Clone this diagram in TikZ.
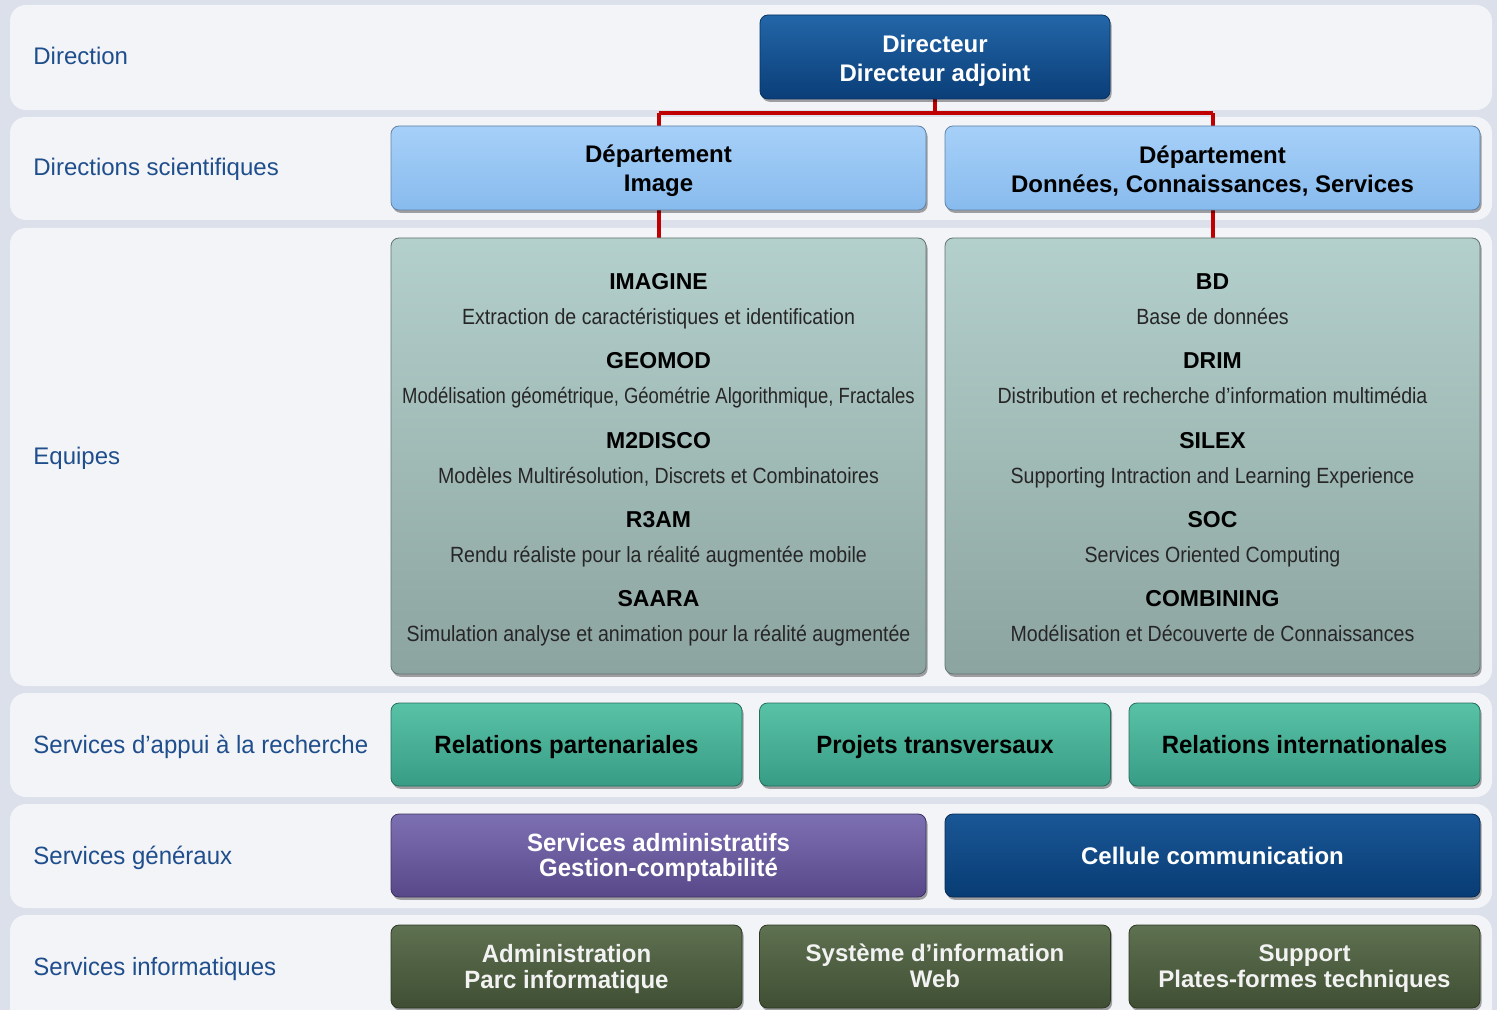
\documentclass[tikz,border=0pt]{standalone}
\usepackage{fontspec}
\setmainfont{Liberation Sans}
\newfontfamily\narrowfont[FakeStretch=0.96]{Liberation Sans}
\newfontfamily\descfont[FakeStretch=0.89]{Liberation Sans}
\newfontfamily\descfontB[FakeStretch=0.84]{Liberation Sans}
\usetikzlibrary{shadows,calc}
\newcommand\hstrut{\rule{0pt}{1em}}
\newcommand\dstrut[1]{\rule[-#1em]{0pt}{#1em}}
\definecolor{bgc}{HTML}{DCE0EA}
\definecolor{bandc}{HTML}{F3F4F8}
\definecolor{labc}{HTML}{1F4E8C}
\definecolor{redc}{HTML}{C00000}
\definecolor{dirtop}{HTML}{2366A8}
\definecolor{dirbot}{HTML}{0A3E78}
\definecolor{deptop}{HTML}{A6D0F8}
\definecolor{depbot}{HTML}{88BBEE}
\definecolor{teamtop}{HTML}{B4D0CC}
\definecolor{teambot}{HTML}{8CA4A0}
\definecolor{tealtop}{HTML}{58C2A6}
\definecolor{tealbot}{HTML}{389C85}
\definecolor{purtop}{HTML}{7D70B2}
\definecolor{purbot}{HTML}{58488A}
\definecolor{comtop}{HTML}{1A5796}
\definecolor{combot}{HTML}{083C74}
\definecolor{grntop}{HTML}{5E7150}
\definecolor{grnbot}{HTML}{404F34}
\begin{document}
\begin{tikzpicture}[x=0.5pt,y=-0.5pt,
  band/.style={fill=bandc, rounded corners=8pt},
  rowlab/.style={anchor=base west, inner sep=0pt, text=labc},
  box/.style={rounded corners=4pt, inner sep=2pt, align=center,
    drop shadow={shadow xshift=0.8pt, shadow yshift=-1.4pt, opacity=0.35, fill=black}},
  dirbox/.style={box, top color=dirtop, bottom color=dirbot, draw=dirbot!80!black,
    text=white, font=\bfseries\fontsize{12}{14.5}\selectfont,
    minimum width=175pt, minimum height=42pt},
  depbox/.style={box, top color=deptop, bottom color=depbot, draw=depbot!70!black,
    text=black, font=\bfseries\fontsize{12}{14.5}\selectfont,
    minimum width=267.5pt, minimum height=42pt},
  teambox/.style={box, top color=teamtop, bottom color=teambot, draw=teambot!70!black,
    minimum width=267.5pt, minimum height=218pt},
  tname/.style={anchor=base, inner sep=0pt, font=\bfseries\fontsize{11.5}{13}\selectfont, text=black},
  tdesc/.style={anchor=base, inner sep=0pt, font=\descfont\fontsize{11}{13}\selectfont, text=black!85},
  tealbox/.style={box, top color=tealtop, bottom color=tealbot, draw=tealbot!70!black,
    text=black, font=\narrowfont\bfseries\fontsize{12.5}{14}\selectfont,
    text height=9pt, text depth=0pt,
    minimum width=175.5pt, minimum height=41.5pt},
  purbox/.style={box, top color=purtop, bottom color=purbot, draw=purbot!70!black,
    text=white, font=\narrowfont\bfseries\fontsize{12.5}{12.5}\selectfont,
    minimum width=267.5pt, minimum height=41.5pt},
  combox/.style={box, top color=comtop, bottom color=combot, draw=combot!70!black,
    text=white, font=\bfseries\fontsize{12}{13}\selectfont,
    text height=8.6pt, text depth=0pt,
    minimum width=267.5pt, minimum height=41.5pt},
  grnbox/.style={box, top color=grntop, bottom color=grnbot, draw=grnbot!70!black,
    text=white!95!black, font=\bfseries\fontsize{12}{13}\selectfont,
    minimum width=175.5pt, minimum height=41.5pt},
  link/.style={draw=redc, line width=2pt}
]
\useasboundingbox (0,0) rectangle (1497,1010);
\fill[bgc] (0,0) rectangle (1497,1010);
% bands
\fill[band] (10,5) rectangle (1492,110);
\fill[band] (10,117) rectangle (1492,220);
\fill[band] (10,228) rectangle (1492,686);
\fill[band] (10,693) rectangle (1492,797);
\fill[band] (10,804) rectangle (1492,908);
\fill[band] (10,915) rectangle (1492,1030);
% row labels
\begin{scope}[font=\fontsize{12}{13}\selectfont]
\node[rowlab] (l1) at (33,65) {Direction};
\node[rowlab] (l2) at (33,176) {Directions scientifiques};
\node[rowlab] (l3) at (33,464) {Equipes};
\end{scope}
\begin{scope}[font=\narrowfont\fontsize{12.5}{14}\selectfont]
\node[rowlab] (l4) at (33,753) {Services d’appui à la recherche};
\node[rowlab] (l5) at (33,864) {Services généraux};
\node[rowlab] (l6) at (33,975) {Services informatiques};
\end{scope}
% connectors (drawn first, boxes on top)
\coordinate (j) at (935,113);
\coordinate (jl) at (658.5,113);
\coordinate (jr) at (1212.5,113);
\draw[link] (935,60) -- (j);
\draw[link] (jl) -- (jr);
\draw[link] (jl) -- (658.5,150);
\draw[link] (jr) -- (1212.5,150);
\draw[link] (658.5,190) -- (658.5,260);
\draw[link] (1212.5,190) -- (1212.5,260);
% boxes
\node[dirbox] (dir) at (935,57) {\hstrut Directeur\\Directeur adjoint\dstrut{0.2}};
\node[depbox] (depI) at (658.5,168) {\hstrut Département\\Image\dstrut{0.2}};
\node[depbox] (depD) at (1212.5,168) {\hstrut Département\\Données, Connaissances, Services\dstrut{0.2}};
\node[teambox] (teamI) at (658.5,456) {};
\node[teambox] (teamD) at (1212.5,456) {};
\foreach \n/\d [count=\i from 0] in {IMAGINE/{Extraction de caractéristiques et identification},
  GEOMOD/{{\descfontB Modélisation géométrique, Géométrie Algorithmique, Fractales}},
  M2DISCO/{Modèles Multirésolution, Discrets et Combinatoires},
  R3AM/{Rendu réaliste pour la réalité augmentée mobile},
  SAARA/{Simulation analyse et animation pour la réalité augmentée}}{
  \node[tname] (tIn\i) at ($(teamI.north)+(0,{52+79.25*\i})$) {\n};
  \node[tdesc] (tId\i) at ($(teamI.north)+(0,{87+79.25*\i})$) {\d};
}
\foreach \n/\d [count=\i from 0] in {BD/{Base de données},
  DRIM/{Distribution et recherche d’information multimédia},
  SILEX/{Supporting Intraction and Learning Experience},
  SOC/{Services Oriented Computing},
  COMBINING/{Modélisation et Découverte de Connaissances}}{
  \node[tname] (tDn\i) at ($(teamD.north)+(0,{52+79.25*\i})$) {\n};
  \node[tdesc] (tDd\i) at ($(teamD.north)+(0,{87+79.25*\i})$) {\d};
}
\node[tealbox] (s1) at (566.5,744.5) {Relations partenariales};
\node[tealbox] (s2) at (935,744.5) {Projets transversaux};
\node[tealbox] (s3) at (1304.5,744.5) {Relations internationales};
\node[purbox] (g1) at (658.5,855.5) {\hstrut Services administratifs\\Gestion-comptabilité\dstrut{0.3}};
\node[combox] (g2) at (1212.5,855.5) {Cellule communication};
\node[grnbox, font=\narrowfont\bfseries\fontsize{12.5}{13}\selectfont] (i1) at (566.5,966.5) {\hstrut Administration\\Parc informatique\dstrut{0.3}};
\node[grnbox] (i2) at (935,966.5) {\hstrut Système d’information\\Web\dstrut{0.3}};
\node[grnbox] (i3) at (1304.5,966.5) {\hstrut Support\\Plates-formes techniques\dstrut{0.3}};
\end{tikzpicture}
\end{document}
